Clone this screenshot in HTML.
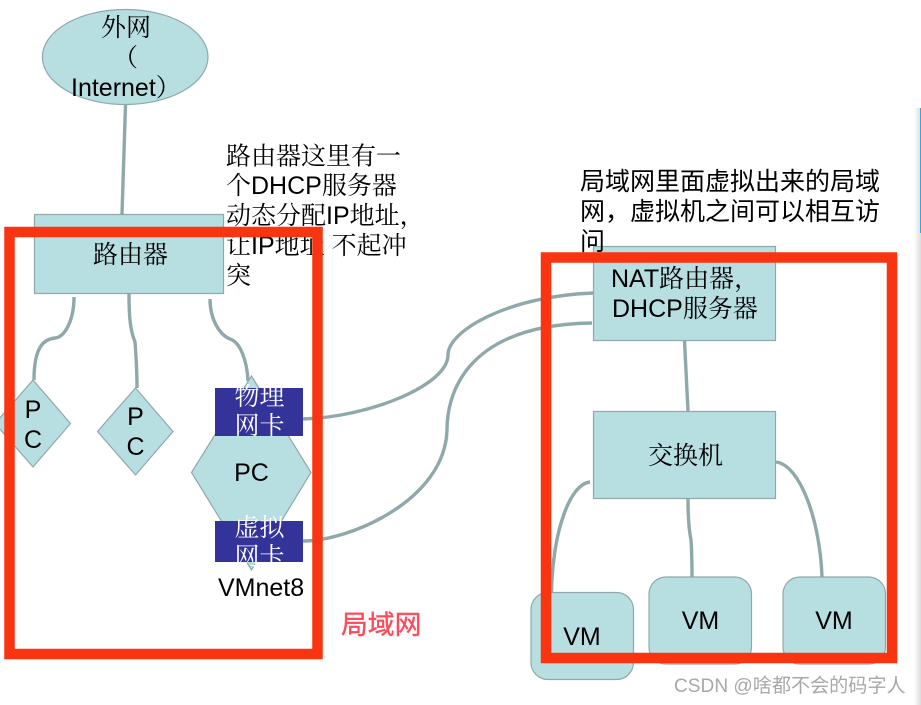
<!DOCTYPE html>
<html>
<head>
<meta charset="utf-8">
<style>
html,body{margin:0;padding:0;background:#fff;width:921px;height:705px;overflow:hidden}
svg{display:block}
text{font-family:"Liberation Sans","WenQuanYi Zen Hei","Noto Serif CJK SC",sans-serif;font-size:25px;fill:#000}
.s{font-family:"Liberation Sans","Noto Sans CJK SC",sans-serif}
.w{fill:#fff}
.m{text-anchor:middle}
.n{fill:#b7dee1;stroke:#8fa9aa;stroke-width:1.2}
.c{fill:none;stroke:#8fa9aa;stroke-width:3.4}
</style>
</head>
<body>
<svg width="921" height="705" viewBox="0 0 921 705" xmlns="http://www.w3.org/2000/svg">
<defs>
<linearGradient id="g" x1="0" x2="1" y1="0" y2="0"><stop offset="0" stop-color="#fff"/><stop offset="1" stop-color="#dcdcdc"/></linearGradient>
</defs>
<rect width="921" height="705" fill="#fff"/>
<rect x="914" y="108" width="7" height="597" fill="url(#g)"/>
<rect x="920" y="108" width="1" height="125" fill="#2fa8e8"/>

<path class="c" d="M125.5,105 L122,214"/>
<path class="c" d="M74,297 C74,320 65,337 55,338 C45,339 34,345 34,380"/>
<path class="c" d="M129,294 C129,315 130,330 135,342 C136,355 137,370 137,388"/>
<path class="c" d="M210,299 C210,320 220,335 230,339 C240,342 247,360 248,381"/>
<path class="c" d="M303,419 C370,417 448,385 448,355 C448,330 510,296 593,293"/>
<path class="c" d="M303,541 C350,541 445,500 447,430 C447,400 460,325 592,323"/>
<path class="c" d="M684.5,341 L688,411"/>
<path class="c" d="M590,482 C570,484 553,530 551.5,592"/>
<path class="c" d="M776,462 C800,465 820,520 822,577"/>
<path class="c" d="M688,499 C688,520 689,530 691,540 C692,555 692,565 692,577"/>

<ellipse class="n" cx="125.2" cy="57" rx="82.8" ry="47.5"/>
<rect class="n" x="34.5" y="214.5" width="189" height="79"/>
<polygon class="n" points="33,380 70.5,423.5 33,467 -5,423.5"/>
<polygon class="n" points="135.5,388 173,431.5 135.5,475 97.5,431.5"/>
<polygon class="n" points="251.5,376 311,472.5 251.5,570 191.5,472.5"/>
<rect x="215" y="388" width="88" height="48" fill="#333399"/>
<rect x="215" y="521" width="88" height="41" fill="#333399"/>
<rect class="n" x="593.5" y="246.5" width="182" height="94"/>
<rect class="n" x="593.5" y="411.5" width="182" height="87"/>
<rect class="n" x="531" y="592.5" width="102.5" height="87" rx="17"/>
<rect class="n" x="649" y="577" width="102.5" height="87" rx="17"/>
<rect class="n" x="783" y="577" width="102.5" height="87" rx="17"/>

<text x="101" y="36">外网</text>
<text x="113" y="66">（</text>
<text x="71" y="96">Internet）</text>
<text x="93" y="263">路由器</text>
<text x="226" y="164.5">路由器这里有一</text>
<text x="226" y="194">个DHCP服务器</text>
<text x="226" y="224">动态分配IP地址，</text>
<text x="226" y="254">让IP地址 不起冲</text>
<text x="226" y="284">突</text>
<text class="m" x="33" y="418">P</text>
<text class="m" x="33" y="448">C</text>
<text class="m" x="135.5" y="425">P</text>
<text class="m" x="135.5" y="455">C</text>
<text class="m" x="251.5" y="481">PC</text>
<text class="w m" x="259.5" y="405">物理</text>
<text class="w m" x="259.5" y="434">网卡</text>
<text class="w m" x="259.5" y="536">虚拟</text>
<text class="w m" x="259.5" y="565">网卡</text>
<text x="218" y="596">VMnet8</text>
<text class="s" x="341" y="634" style="fill:#fb4c5c;font-size:26.8px;stroke:#fb4c5c;stroke-width:.4">局域网</text>
<text class="s" x="580" y="190">局域网里面虚拟出来的局域</text>
<text class="s" x="580" y="220">网，虚拟机之间可以相互访</text>
<text class="s" x="580" y="250">问</text>
<text x="611" y="287">NAT路由器，</text>
<text x="612" y="317">DHCP服务器</text>
<text x="648" y="464">交换机</text>
<text class="m" x="582" y="645">VM</text>
<text class="m" x="700.5" y="629">VM</text>
<text class="m" x="834" y="629">VM</text>

<rect x="9.5" y="232" width="308" height="422" fill="none" stroke="#f93410" stroke-width="10.5"/>
<rect x="546" y="257.5" width="346" height="400.5" fill="none" stroke="#f93410" stroke-width="10.5"/>

<text class="s" x="674" y="692" style="fill:#a8a8a8;font-size:19.1px">CSDN @啥都不会的码字人</text>
</svg>
</body>
</html>
